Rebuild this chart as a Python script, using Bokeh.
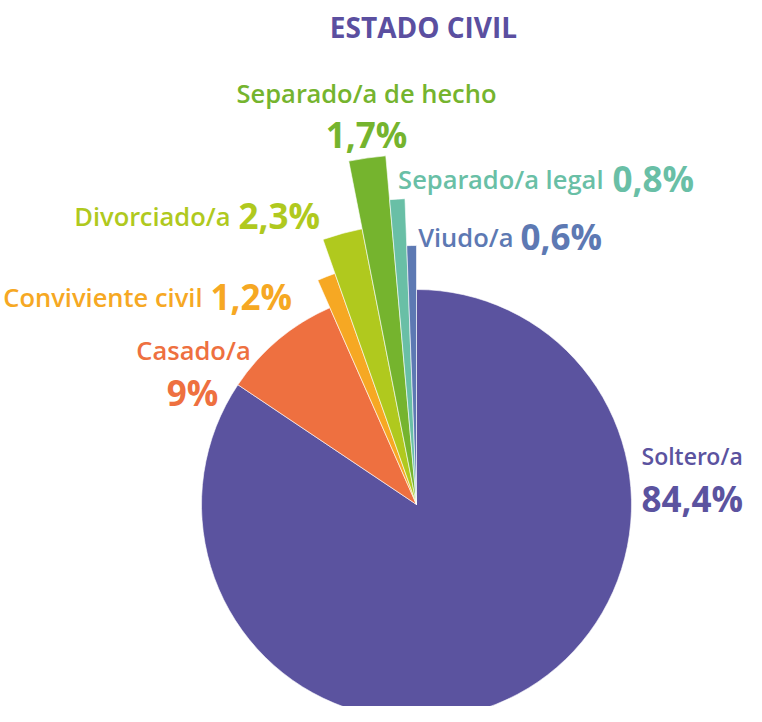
import math
from bokeh.plotting import figure
from bokeh.models import ColumnDataSource, Range1d
from bokeh.core.properties import value
from bokeh.embed import file_html
from bokeh.resources import INLINE

# ---- data ----
categories = ["Soltero/a", "Casado/a", "Conviviente civil", "Divorciado/a",
              "Separado/a de hecho", "Separado/a legal", "Viudo/a"]
percent = [84.4, 9.0, 1.2, 2.3, 1.7, 0.8, 0.6]
pct_labels = ["84,4%", "9%", "1,2%", "2,3%", "1,7%", "0,8%", "0,6%"]

# ---- style ----
colors = ["#5B539F", "#EE7040", "#F6A823", "#B0C91E", "#75B42E", "#69BFA6", "#5D79B3"]
radii = [215, 215, 245, 281, 350, 306, 259]
title_color = "#5B4FA0"

W, H = 746, 706
TOP = 722
def py(ypix):  # picture pixel y -> data y
    return TOP - ypix

p = figure(width=W, height=H, output_backend="svg", toolbar_location=None,
           x_range=Range1d(0, W), y_range=Range1d(TOP - H, TOP),
           min_border=0, outline_line_color=None)
p.axis.visible = False
p.grid.visible = False
p.background_fill_color = "white"
p.border_fill_color = "white"

# wedges, clockwise from 12 o'clock
total = sum(percent)
cum = 0.0
starts, ends = [], []
for v in percent:
    starts.append(math.pi / 2 - 2 * math.pi * cum / total)
    cum += v
    ends.append(math.pi / 2 - 2 * math.pi * cum / total)

cx, cy = 416, py(504)
src = ColumnDataSource(dict(x=[cx] * len(percent), y=[cy] * len(percent),
                            r=radii, s=starts, e=ends, c=colors))
p.wedge(x="x", y="y", radius="r", start_angle="s", end_angle="e", direction="clock",
        fill_color="c", line_color="white", line_width=0.6, source=src)

# label layout: (label x, label baseline, label align, value x, value baseline, value align, label size)
layout = [
    (641, 455, "left", 641, 498, "left", "23px"),
    (193, 349, "center", 192, 392, "center", "25.5px"),
    (202, 296, "right", 210, 296, "left", "25.5px"),
    (230, 215, "right", 238, 215, "left", "25.5px"),
    (366, 92, "center", 366, 134, "center", "25.5px"),
    (603, 178, "right", 612, 178, "left", "25.5px"),
    (513, 236, "right", 520, 236, "left", "25.5px"),
]

lab = ColumnDataSource(dict(
    x=[l[0] for l in layout], y=[py(l[1]) for l in layout],
    a=[l[2] for l in layout], t=categories, c=colors, fs=[l[6] for l in layout]))
val = ColumnDataSource(dict(
    x=[l[3] for l in layout], y=[py(l[4]) for l in layout],
    a=[l[5] for l in layout], t=pct_labels, c=colors))

p.text(x="x", y="y", text="t", text_align="a", text_baseline="alphabetic",
       text_color="c", text_font=value("'Open Sans SemiBold', 'Open Sans'"),
       text_font_size="fs", source=lab)
p.text(x="x", y="y", text="t", text_align="a", text_baseline="alphabetic",
       text_color="c", text_font=value("Open Sans"), text_font_style="bold",
       text_font_size="35px", source=val)

p.text(x=[423], y=[py(26)], text=["ESTADO CIVIL"], text_align="center",
       text_baseline="alphabetic", text_color=title_color,
       text_font=value("Open Sans"), text_font_style="bold", text_font_size="28px")

open("out.html", "w").write(file_html(p, INLINE))
